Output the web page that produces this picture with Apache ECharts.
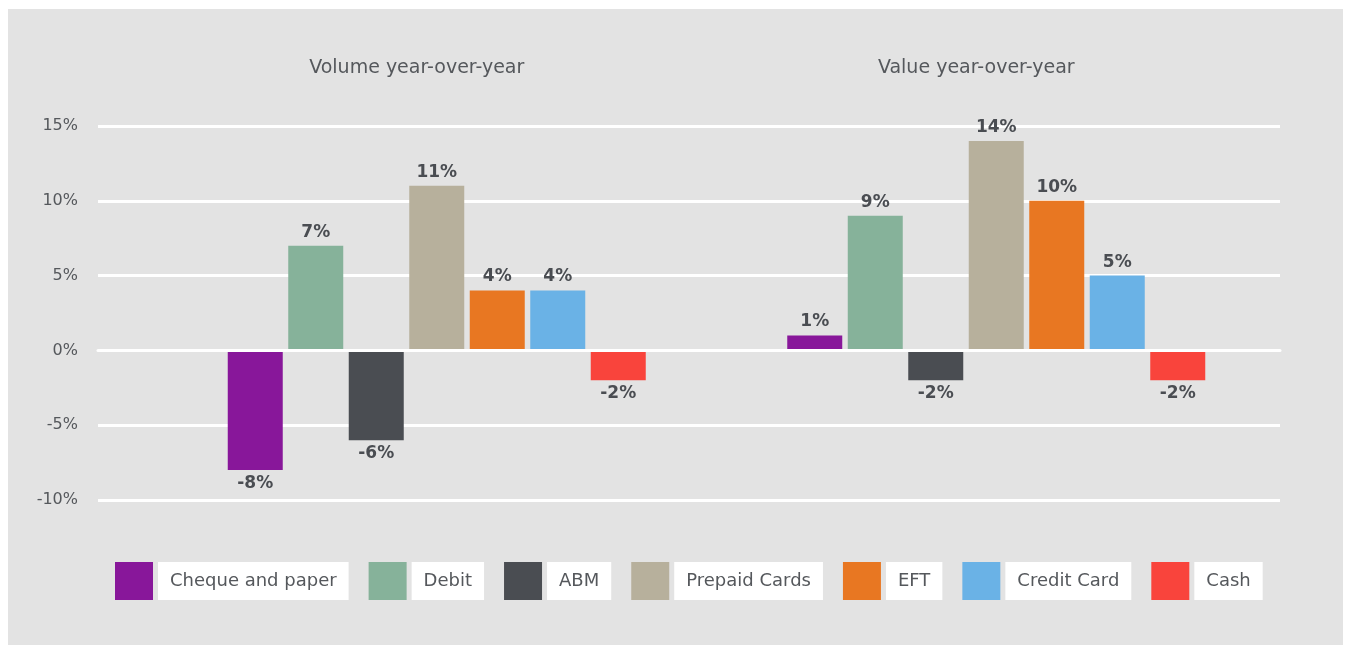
<!DOCTYPE html>
<html>
<head>
<meta charset="utf-8">
<script src="https://cdn.jsdelivr.net/npm/echarts@6/dist/echarts.min.js"></script>
<style>
  html, body { margin: 0; padding: 0; background: #ffffff; }
  #chart {
    position: absolute;
    left: 8px;
    top: 9px;
    width: 1335px;
    height: 636px;
    background: #e3e3e3;
  }
</style>
</head>
<body>
<div id="chart"></div>
<script>
// categories along the x axis
const categories = ['Volume year-over-year', 'Value year-over-year'];

// one array per payment method, [volume, value] in %
const chequeAndPaper = [-8, 1];
const debit = [7, 9];
const abm = [-6, -2];
const prepaidCards = [11, 14];
const eft = [4, 10];
const creditCard = [4, 5];
const cash = [-2, -2];

const yTicks = [-10, -5, 0, 5, 10, 15];

const seriesDefs = [
  {name: 'Cheque and paper', data: chequeAndPaper, color: '#88179a'},
  {name: 'Debit', data: debit, color: '#86b29a'},
  {name: 'ABM', data: abm, color: '#4a4d52'},
  {name: 'Prepaid Cards', data: prepaidCards, color: '#b7b09c'},
  {name: 'EFT', data: eft, color: '#e87722'},
  {name: 'Credit Card', data: creditCard, color: '#6ab2e6'},
  {name: 'Cash', data: cash, color: '#f9443c'}
];

const fontFamily = '"DejaVu Sans", sans-serif';
const chart = echarts.init(document.getElementById('chart'));

const yMin = yTicks[0];
const yMax = yTicks[yTicks.length - 1];

chart.setOption({
  backgroundColor: '#e3e3e3',
  textStyle: {fontFamily: fontFamily},
  legend: {
    left: 107,
    top: 553,
    padding: 0,
    icon: 'rect',
    itemWidth: 38,
    itemHeight: 38,
    itemGap: 20,
    selectedMode: false,
    textStyle: {
      fontFamily: fontFamily,
      fontSize: 18,
      color: '#55585c',
      backgroundColor: '#ffffff',
      lineHeight: 20,
      padding: [9, 12]
    },
    data: seriesDefs.map(s => s.name)
  },
  grid: [
    // grid lines + y labels
    {left: 90, right: 63, top: 117, bottom: 145},
    // bars
    {left: 149, right: 67, top: 117, bottom: 145}
  ],
  xAxis: [
    {
      gridIndex: 0,
      type: 'category',
      data: categories,
      axisLine: {show: true, onZero: true, lineStyle: {color: '#ffffff', width: 3}},
      axisTick: {show: false},
      axisLabel: {show: false},
      z: 10
    },
    {
      gridIndex: 1,
      type: 'category',
      position: 'top',
      data: categories,
      axisLine: {show: false},
      axisTick: {show: false},
      axisLabel: {
        fontFamily: fontFamily,
        fontSize: 19,
        color: '#55585c',
        margin: 48,
        padding: [0, 40, 0, 0]
      }
    }
  ],
  yAxis: [
    {
      gridIndex: 0,
      type: 'value',
      min: yMin,
      max: yMax,
      interval: 5,
      axisLine: {show: false},
      axisTick: {show: false},
      axisLabel: {
        fontFamily: fontFamily,
        fontSize: 16,
        color: '#55585c',
        margin: 20,
        formatter: '{value}%'
      },
      splitLine: {lineStyle: {color: '#ffffff', width: 3}}
    },
    {
      gridIndex: 1,
      type: 'value',
      min: yMin,
      max: yMax,
      interval: 5,
      show: false,
      splitLine: {show: false}
    }
  ],
  series: seriesDefs.map(s => ({
    name: s.name,
    type: 'bar',
    xAxisIndex: 1,
    yAxisIndex: 1,
    barWidth: 55,
    barGap: '10%',
    itemStyle: {color: s.color},
    label: {
      show: true,
      fontFamily: fontFamily,
      fontSize: 17,
      fontWeight: 'bold',
      color: '#4a4d52',
      distance: 5,
      formatter: '{c}%'
    },
    data: s.data.map(v => ({
      value: v,
      label: {position: v < 0 ? 'bottom' : 'top'}
    }))
  }))
});
</script>
</body>
</html>
